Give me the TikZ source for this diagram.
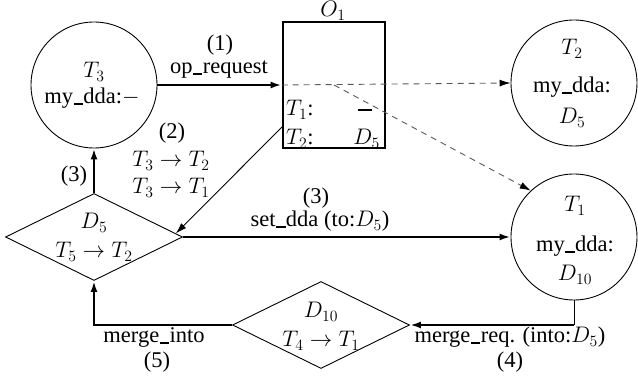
\RequirePackage{fix-cm}
\documentclass[tikz,border=0pt]{standalone}
\usepackage{fontspec}
\setmainfont{Liberation Serif}
\usetikzlibrary{shapes.geometric,arrows.meta,calc}
\newcommand{\us}{\kern0.02em\rule[-0.03em]{0.42em}{0.07em}\kern0.02em}
\newcommand{\bdash}{\rule[0.22em]{0.6em}{0.09em}}
\tikzset{
  circ/.style={circle,draw,line width=0.9pt,minimum size=126pt,inner sep=0pt},
  dia/.style={diamond,draw,line width=0.9pt,minimum width=177pt,minimum height=87pt,inner sep=0pt},
  objbox/.style={rectangle,draw,line width=2.8pt,minimum width=102pt,minimum height=126pt,inner sep=0pt},
  txt/.style={inner sep=0pt,anchor=base,font=\fontsize{22.5}{27}\selectfont},
  tip/.style={-{Latex[length=11pt,width=7pt]}},
  thk/.style={line width=2.4pt,tip},
  thn/.style={line width=0.9pt,tip},
  dsh/.style={line width=0.9pt,gray!70!black,dash pattern=on 6pt off 5pt,-{Latex[length=11pt,width=7pt,black]}}
}
\begin{document}
\begin{tikzpicture}[x=1pt,y=-1pt]
\useasboundingbox (0,0) rectangle (638,379);
% nodes
\node[circ] (T3) at (94,85) {};
\node[circ] (T2) at (574,83) {};
\node[circ] (T1) at (574,237) {};
\node[objbox] (box) at (334,85) {};
\node[dia] (D5) at (94,237) {};
\node[dia] (D10) at (321,325) {};
% texts
\node[txt] (tT3) at (94,78) {$T_3$};
\node[txt] (tT3b) at (92,104) {my\us dda:$-$};
\node[txt] (tT2) at (572,55) {$T_2$};
\node[txt] (tT2b) at (572,93) {my\us dda:};
\node[txt] (tT2c) at (572,124) {$D_5$};
\node[txt] (tT1) at (575,212) {$T_1$};
\node[txt] (tT1b) at (575,252) {my\us dda:};
\node[txt] (tT1c) at (575,281) {$D_{10}$};
\node[txt] (tO1) at (333,17) {$O_1$};
\node[txt,anchor=base west] (bT1) at (286,116) {$T_1$:};
\node[txt] (bT1v) at (365,116) {\bdash};
\node[txt,anchor=base west] (bT2) at (286,145) {$T_2$:};
\node[txt,anchor=base east] (bT2v) at (380,145) {$D_5$};
\node[txt] (tD5) at (94,229) {$D_5$};
\node[txt] (tD5b) at (94,258) {$T_5\rightarrow T_2$};
\node[txt] (tD10) at (321,318) {$D_{10}$};
\node[txt] (tD10b) at (321,347) {$T_4\rightarrow T_1$};
% labels
\node[txt] (l1) at (220,51) {(1)};
\node[txt] (l1b) at (219,74) {op\us request};
\node[txt] (l2) at (172,139) {(2)};
\node[txt] (l2b) at (171,167) {$T_3\rightarrow T_2$};
\node[txt] (l2c) at (171,194) {$T_3\rightarrow T_1$};
\node[txt] (l3a) at (74,182) {(3)};
\node[txt] (l3) at (316,204) {(3)};
\node[txt] (l3b) at (320,227) {set\us dda (to:$D_5$)};
\node[txt] (l4b) at (510,343) {merge\us req. (into:$D_5$)};
\node[txt] (l4) at (510,368) {(4)};
\node[txt] (l5b) at (154,343) {merge\us into};
\node[txt] (l5) at (157,368) {(5)};
% connectors
\coordinate (b2) at (283,126);
\coordinate (c4) at (T1.south |- D10.east);
\draw[thk] (T3.east) -- (box.west);
\draw[dsh] (box.west) -- (T2.west);
\draw[dsh] (box.center) -- (T1.133);
\draw[thn] (b2) -- ($(D5.east)!0.08!(D5.north)$);
\draw[thk] (D5.north) -- (T3.south);
\draw[thk] (D5.east) -- (D5.east -| T1.west);
\draw[line width=0.9pt] (T1.south) -- (c4);
\draw[thk] (c4) -- (D10.east);
\draw[thk] (D10.west) -| (D5.south);
\end{tikzpicture}
\end{document}
